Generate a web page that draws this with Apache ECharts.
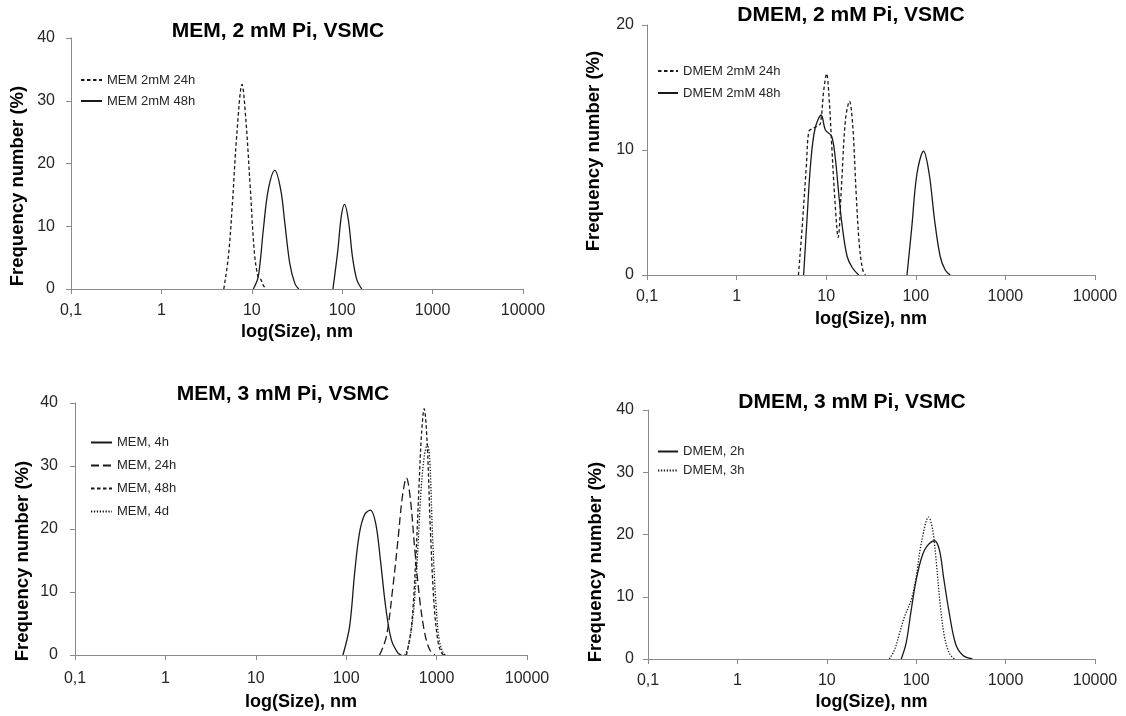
<!DOCTYPE html>
<html>
<head>
<meta charset="utf-8">
<title>Particle size distributions, VSMC media</title>
<script src="https://cdn.jsdelivr.net/npm/echarts@6/dist/echarts.min.js"></script>
<style>
  html, body { margin: 0; padding: 0; background: #ffffff; }
  #chart { width: 1126px; height: 716px; }
</style>
</head>
<body>
<div id="chart"></div>
<script>
// Decade tick labels of the size axis (decimal comma)
const xTickLabels = ['0,1', '1', '10', '100', '1000', '10000'];

// Panel titles and legend entries
const panelTitles = ['MEM, 2 mM Pi, VSMC', 'DMEM, 2 mM Pi, VSMC', 'MEM, 3 mM Pi, VSMC', 'DMEM, 3 mM Pi, VSMC'];
const namesMem2 = ['MEM 2mM 24h', 'MEM 2mM 48h'];
const namesDmem2 = ['DMEM 2mM 24h', 'DMEM 2mM 48h'];
const namesMem3 = ['MEM, 4h', 'MEM, 24h', 'MEM, 48h', 'MEM, 4d'];
const namesDmem3 = ['DMEM, 2h', 'DMEM, 3h'];

// Size distributions: [size (nm), frequency number (%)]; '-' breaks the trace between populations
const mem2mM24h = [[4.9, 0], [5.5, 5.1], [6.1, 13.6], [6.8, 24.3], [7.8, 32.6], [8.6, 26.9], [9.6, 16.3],
  [10.7, 5.7], [11.8, 1.8], [12.6, 1.5], [13.5, 0.5], [14.6, 0]];
const mem2mM48h = [[10.4, 0], [11.8, 2.0], [13.4, 9.4], [15.2, 15.8], [18.0, 18.9], [20.9, 15.8], [23.2, 10.5],
  [26.3, 4.1], [29.9, 0.9], [33, 0], [50, '-'], [79, 0], [89.5, 6.2], [97.5, 11.5], [106, 13.5], [117, 11.0],
  [130, 5.1], [145, 1.5], [165, 0]];

const dmem2mM24h = [[4.9, 0], [5.4, 3.9], [6.0, 8.7], [6.4, 11.5], [7.0, 11.7], [7.9, 11.9], [8.6, 12.1],
  [9.4, 14.8], [10.1, 16.1], [10.7, 14.5], [11.5, 10.5], [12.5, 6.0], [13.6, 3.0], [14.8, 7.1], [16.4, 12.4],
  [18.2, 13.9], [19.8, 11.9], [21.6, 6.5], [23.5, 2.3], [25.6, 0.4], [27.4, 0]];
const dmem2mM48h = [[5.6, 0], [6.1, 4.4], [6.7, 8.9], [7.5, 11.7], [8.8, 12.8], [9.8, 11.6], [11.5, 11.1],
  [12.7, 9.2], [13.8, 6.5], [15.1, 3.9], [17.1, 1.5], [19.5, 0.6], [23.1, 0], [45, '-'], [79.8, 0], [90.4, 3.9],
  [103, 8.1], [122, 9.9], [141, 8.1], [162, 4.4], [187, 1.5], [213, 0.4], [242, 0]];

const mem3mM4h = [[92, 0], [109, 4.5], [124, 13.0], [140, 19.3], [160, 22.3], [185, 23.0], [212, 20.9],
  [239, 15.1], [273, 7.7], [316, 2.4], [374, 0.3], [408, 0]];
const mem3mM24h = [[234, 0], [278, 2.9], [329, 10.9], [374, 18.3], [419, 25.2], [464, 28.1], [514, 24.6],
  [574, 16.7], [652, 8.7], [741, 3.4], [842, 0.8], [958, 0]];
const mem3mM48h = [[464, 0], [527, 4.5], [588, 15.1], [641, 27.3], [682, 35.2], [728, 39.1], [786, 33.7],
  [857, 19.3], [941, 7.7], [1043, 1.9], [1138, 0.3], [1200, 0]];
const mem3mM4d = [[444, 0], [483, 1.1], [549, 6.1], [610, 15.1], [670, 25.7], [730, 31.5], [790, 33.4],
  [840, 31.0], [900, 19.3], [983, 8.2], [1068, 2.4], [1185, 0.3], [1270, 0]];

const dmem3mM2h = [[68, 0], [77, 2.5], [88, 7.9], [101.6, 13.2], [124, 17.5], [160, 19.0], [182, 17.5],
  [202, 13.2], [231, 7.9], [275, 2.5], [332, 0.6], [426, 0]];
const dmem3mM3h = [[50, 0], [57, 1.4], [65, 4.1], [74, 6.8], [88, 9.5], [100, 13.2], [114, 18.6], [138, 22.8],
  [153, 20.7], [167, 15.9], [185, 8.9], [207, 3.6], [235, 0.9], [268, 0]];

const FONT = '"Liberation Sans", Arial, sans-serif';
const INK = '#1a1a1a';
const TEXT = '#262626';
const AXIS = '#8a8a8a';
const SHORT_DASH = [3.5, 2.5];
const LONG_DASH = [8, 4];
const DOT = [1.3, 1.6];

function sizeAxis(gridIndex, nameGap, labelMargin) {
  return {
    type: 'log', logBase: 10, gridIndex, min: 0.1, max: 10000,
    name: 'log(Size), nm', nameLocation: 'middle', nameGap,
    nameTextStyle: { fontFamily: FONT, fontWeight: 'bold', fontSize: 18, color: '#000' },
    axisLine: { show: true, lineStyle: { color: AXIS, width: 1 } },
    axisTick: { show: true, inside: false, length: 5, lineStyle: { color: AXIS } },
    minorTick: { show: false },
    splitLine: { show: false },
    axisLabel: {
      margin: labelMargin, fontFamily: FONT, fontSize: 16, color: TEXT,
      formatter: v => xTickLabels[Math.round(Math.log10(v)) + 1]
    },
    z: 5
  };
}

function freqAxis(gridIndex, max, labelMargin) {
  return {
    type: 'value', gridIndex, min: 0, max, interval: 10,
    axisLine: { show: true, onZero: false, lineStyle: { color: AXIS, width: 1 } },
    axisTick: { show: true, inside: false, length: 5, lineStyle: { color: AXIS } },
    splitLine: { show: false },
    axisLabel: { margin: labelMargin, fontFamily: FONT, fontSize: 16, color: TEXT },
    z: 5
  };
}

function curve(name, data, axisIndex, dash) {
  return {
    type: 'line', name, data,
    xAxisIndex: axisIndex, yAxisIndex: axisIndex,
    symbol: 'none', showSymbol: false,
    smooth: 0.35, connectNulls: false,
    lineStyle: { color: INK, width: 1.3, type: dash || 'solid' },
    itemStyle: { color: INK },
    emphasis: { disabled: true },
    z: 2
  };
}

// Vertical legend per panel; the marker symbol is hidden so only the line sample shows
function panelLegend(names, left, top, gap, itemWidth) {
  return {
    data: names, orient: 'vertical', left, top, padding: 0,
    itemGap: gap, itemWidth, itemHeight: 12, selectedMode: false,
    itemStyle: { opacity: 0 },
    textStyle: { fontFamily: FONT, fontSize: 13, color: TEXT }
  };
}

function panelTitle(text, centerX, top) {
  return {
    text, left: centerX, top, textAlign: 'center', padding: 0,
    textStyle: { fontFamily: FONT, fontWeight: 'bold', fontSize: 21, color: '#000' }
  };
}

function freqName(x, y) {
  return {
    type: 'text', x, y, rotation: Math.PI / 2, silent: true,
    style: {
      text: 'Frequency number (%)', fill: '#000',
      font: 'bold 18.5px ' + FONT, textAlign: 'center', textVerticalAlign: 'middle'
    }
  };
}

const chart = echarts.init(document.getElementById('chart'), null, { renderer: 'canvas' });

chart.setOption({
  backgroundColor: '#ffffff',
  animation: false,
  title: [
    panelTitle(panelTitles[0], 278, 21),
    panelTitle(panelTitles[1], 851, 5),
    panelTitle(panelTitles[2], 283, 384),
    panelTitle(panelTitles[3], 852, 392)
  ],
  legend: [
    panelLegend(namesMem2, 80, 73.5, 8, 21),
    panelLegend(namesDmem2, 657, 64.5, 9, 20),
    panelLegend(namesMem3, 90, 436, 10, 21),
    panelLegend(namesDmem3, 657, 445, 6, 20)
  ],
  grid: [
    { left: 71, top: 38, width: 452, height: 251 },
    { left: 647, top: 25, width: 448, height: 250 },
    { left: 75, top: 403, width: 452, height: 252 },
    { left: 648, top: 410, width: 447, height: 249 }
  ],
  xAxis: [
    sizeAxis(0, 34, 14),
    sizeAxis(1, 35, 14),
    sizeAxis(2, 38, 16),
    sizeAxis(3, 34, 14)
  ],
  yAxis: [
    freqAxis(0, 40, 16),
    freqAxis(1, 20, 13),
    freqAxis(2, 40, 17),
    freqAxis(3, 40, 14)
  ],
  graphic: [
    freqName(18, 186),
    freqName(594, 151),
    freqName(23, 561),
    freqName(596, 562)
  ],
  series: [
    curve(namesMem2[0], mem2mM24h, 0, SHORT_DASH),
    curve(namesMem2[1], mem2mM48h, 0),
    curve(namesDmem2[0], dmem2mM24h, 1, SHORT_DASH),
    curve(namesDmem2[1], dmem2mM48h, 1),
    curve(namesMem3[0], mem3mM4h, 2),
    curve(namesMem3[1], mem3mM24h, 2, LONG_DASH),
    curve(namesMem3[2], mem3mM48h, 2, SHORT_DASH),
    curve(namesMem3[3], mem3mM4d, 2, DOT),
    curve(namesDmem3[0], dmem3mM2h, 3),
    curve(namesDmem3[1], dmem3mM3h, 3, DOT)
  ]
});
</script>
</body>
</html>
